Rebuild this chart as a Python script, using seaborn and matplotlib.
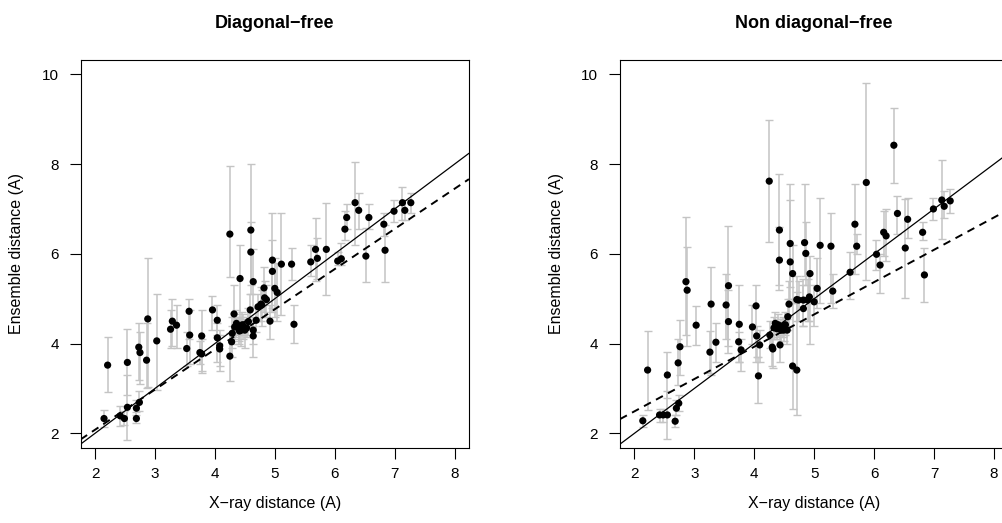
import numpy as np
import pandas as pd
import matplotlib
matplotlib.use("Agg")
import matplotlib.pyplot as plt
import seaborn as sns

sns.set_style("white")
plt.rcParams['font.family'] = ['Liberation Sans', 'DejaVu Sans']
plt.rcParams['text.color'] = 'black'
plt.rcParams['axes.labelcolor'] = 'black'
plt.rcParams['xtick.color'] = 'black'
plt.rcParams['ytick.color'] = 'black'

# --- data ---
# diagonal-free panel
diag_x = [2.15, 2.21, 2.42, 2.49, 2.54, 2.54, 2.69, 2.69, 2.74, 2.73, 2.75, 2.86, 2.88, 3.03,
          3.26, 3.29, 3.36, 3.53, 3.57, 3.58, 3.75, 3.78, 3.78, 3.96, 4.04, 4.04, 4.08, 4.08,
          4.25, 4.25, 4.28, 4.29, 4.32, 4.33, 4.36, 4.40, 4.42, 4.44, 4.47, 4.50, 4.38, 4.41,
          4.46, 4.53, 4.60, 4.60, 4.64, 4.59, 4.64, 4.64, 4.56, 4.69, 4.72, 4.77, 4.82, 4.83,
          4.86, 4.78, 4.92, 4.96, 4.96, 5.00, 5.04, 5.11, 5.28, 5.32, 5.60, 5.68, 5.71, 5.86,
          6.05, 6.11, 6.17, 6.20, 6.34, 6.40, 6.52, 6.57, 6.82, 6.84, 6.99, 7.13, 7.17, 7.27]
diag_y = [2.33, 3.52, 2.39, 2.33, 3.58, 2.58, 2.33, 2.56, 2.69, 3.92, 3.80, 3.63, 4.55, 4.06,
          4.32, 4.50, 4.41, 3.89, 4.72, 4.19, 3.80, 3.77, 4.17, 4.75, 4.52, 4.13, 3.95, 3.88,
          6.44, 3.72, 4.04, 4.23, 4.66, 4.37, 4.45, 4.33, 5.45, 4.30, 4.37, 4.30, 4.40, 4.28,
          4.42, 4.35, 6.53, 6.04, 5.38, 4.75, 4.30, 4.17, 4.49, 4.52, 4.82, 4.88, 5.24, 5.02,
          4.98, 4.86, 4.50, 5.86, 5.61, 5.23, 5.14, 5.77, 5.77, 4.43, 5.82, 6.10, 5.90, 6.10,
          5.84, 5.89, 6.55, 6.81, 7.14, 6.97, 5.95, 6.81, 6.66, 6.08, 6.95, 7.14, 6.97, 7.14]
diag_lo = [2.15, 2.91, 2.16, 2.18, 2.85, 1.85, 2.22, 2.40, 2.50, 3.19, 3.10, 3.00, 3.04, 2.96,
           3.90, 3.95, 3.90, 3.50, 4.10, 3.55, 3.55, 3.34, 3.40, 4.30, 4.20, 3.60, 3.50, 3.40,
           5.49, 3.17, 3.70, 3.90, 4.00, 4.10, 4.15, 4.00, 4.50, 3.95, 4.10, 3.90, 4.20, 4.05,
           4.20, 4.15, 5.10, 5.30, 4.80, 4.40, 4.00, 3.70, 4.20, 4.25, 4.50, 4.50, 4.70, 4.60,
           4.60, 4.40, 4.10, 4.70, 4.80, 4.60, 4.50, 4.63, 5.41, 4.01, 5.50, 5.40, 5.45, 5.08,
           5.75, 5.75, 6.30, 6.55, 6.19, 6.55, 5.38, 6.55, 6.40, 5.38, 6.70, 6.75, 6.75, 6.90]
diag_hi = [2.53, 4.14, 2.60, 2.50, 4.32, 3.30, 2.48, 2.75, 2.95, 4.46, 4.25, 4.45, 5.90, 5.10,
           4.75, 5.00, 4.85, 4.25, 5.00, 4.75, 4.05, 4.10, 4.75, 5.05, 4.85, 4.45, 4.30, 4.20,
           7.96, 4.23, 4.40, 4.60, 5.30, 4.65, 4.75, 4.60, 6.20, 4.60, 4.65, 4.55, 4.60, 4.55,
           4.70, 4.60, 8.00, 6.70, 6.10, 5.10, 4.60, 4.40, 4.80, 4.80, 5.10, 5.25, 5.70, 5.40,
           5.30, 5.20, 4.85, 6.90, 6.30, 5.90, 5.80, 6.90, 6.14, 4.86, 6.20, 6.80, 6.35, 7.14,
           6.05, 6.25, 6.95, 7.10, 8.04, 7.35, 6.57, 7.10, 6.90, 6.65, 7.20, 7.50, 7.20, 7.35]

# non diagonal-free panel
nond_x = [2.14, 2.22, 2.42, 2.48, 2.55, 2.55, 2.68, 2.70, 2.74, 2.73, 2.76, 2.86, 2.88, 3.03,
          3.26, 3.28, 3.36, 3.53, 3.57, 3.57, 3.75, 3.74, 3.78, 3.97, 4.03, 4.04, 4.09, 4.07,
          4.25, 4.26, 4.30, 4.31, 4.33, 4.35, 4.38, 4.40, 4.42, 4.42, 4.43, 4.45, 4.48, 4.52,
          4.55, 4.49, 4.56, 4.58, 4.60, 4.60, 4.64, 4.64, 4.71, 4.71, 4.74, 4.82, 4.82, 4.84,
          4.86, 4.89, 4.92, 4.93, 5.00, 5.05, 5.10, 5.28, 5.31, 5.60, 5.68, 5.71, 5.87, 6.04,
          6.10, 6.16, 6.20, 6.33, 6.39, 6.52, 6.56, 6.81, 6.84, 6.99, 7.13, 7.17, 7.27]
nond_y = [2.28, 3.41, 2.41, 2.41, 2.41, 3.30, 2.27, 2.56, 2.67, 3.57, 3.93, 5.38, 5.19, 4.41,
          3.81, 4.88, 4.03, 4.86, 5.29, 4.49, 4.43, 4.04, 3.86, 4.37, 4.84, 4.17, 3.97, 3.28,
          7.62, 4.19, 3.92, 3.88, 4.35, 4.45, 4.33, 4.42, 6.53, 5.86, 3.97, 4.30, 4.38, 4.42,
          4.30, 4.30, 4.60, 4.88, 6.23, 5.82, 5.56, 3.50, 3.41, 4.98, 4.97, 4.97, 4.78, 6.25,
          6.01, 4.97, 5.04, 5.56, 4.93, 5.23, 6.19, 6.17, 5.17, 5.59, 6.66, 6.17, 7.59, 5.99,
          5.75, 6.48, 6.40, 8.42, 6.90, 6.13, 6.77, 6.48, 5.53, 7.00, 7.20, 7.06, 7.18]
nond_lo = [2.15, 2.53, 2.25, 2.25, 1.87, 2.78, 2.15, 2.40, 2.50, 3.08, 3.30, 4.19, 3.95, 3.97,
           3.34, 3.30, 3.59, 4.10, 3.95, 3.80, 3.60, 3.60, 3.40, 4.00, 3.60, 3.70, 3.60, 2.68,
           6.27, 3.90, 3.50, 3.45, 4.10, 4.20, 4.10, 4.15, 5.20, 5.30, 3.60, 4.05, 4.15, 4.20,
           4.00, 4.05, 4.30, 4.40, 5.25, 5.00, 4.90, 2.55, 2.41, 4.50, 4.50, 4.40, 4.40, 5.50,
           5.30, 4.50, 4.50, 4.00, 4.40, 4.80, 4.90, 4.90, 4.80, 5.00, 5.55, 6.00, 5.41, 5.65,
           5.12, 5.95, 5.85, 7.58, 6.45, 5.01, 6.35, 6.30, 4.93, 6.75, 6.32, 6.80, 6.90]
nond_hi = [2.41, 4.28, 2.55, 2.55, 2.94, 3.82, 2.40, 2.75, 2.85, 4.10, 4.52, 6.82, 6.15, 4.84,
           4.29, 5.70, 4.46, 5.55, 6.62, 5.20, 5.30, 4.25, 4.10, 4.85, 5.30, 4.40, 4.30, 3.71,
           8.98, 4.50, 4.20, 4.10, 4.60, 4.70, 4.55, 4.65, 7.77, 6.60, 4.20, 4.55, 4.60, 4.70,
           4.55, 4.55, 5.00, 5.40, 7.55, 7.20, 6.20, 4.90, 5.15, 5.50, 5.40, 5.45, 5.30, 7.55,
           6.70, 5.45, 5.55, 5.95, 5.30, 5.90, 7.25, 6.90, 5.55, 6.05, 7.55, 6.45, 9.80, 6.30,
           6.00, 6.95, 7.00, 9.24, 7.30, 7.23, 7.25, 6.70, 6.12, 7.25, 8.09, 7.40, 7.45]

# dashed fit lines (intercept, slope); solid line is y = x
fit_diag = (0.29, 0.895)
fit_nond = (1.05, 0.72)

titles = ["Diagonal\u2212free", "Non diagonal\u2212free"]
x_ticks = [2, 3, 4, 5, 6, 7, 8]
y_ticks = [2, 4, 6, 8, 10]

panels = [
    (pd.DataFrame({'x': diag_x, 'y': diag_y, 'lo': diag_lo, 'hi': diag_hi}), fit_diag),
    (pd.DataFrame({'x': nond_x, 'y': nond_y, 'lo': nond_lo, 'hi': nond_hi}), fit_nond),
]

fig = plt.figure(figsize=(10.02, 5.23), dpi=100)
ax_left = fig.add_axes([0.0805, 0.144, 0.3875, 0.7413])
ax_right = fig.add_axes([0.6188, 0.144, 0.3875, 0.7413])

for ax, (df, fit), title in zip([ax_left, ax_right], panels, titles):
    yerr = np.vstack([df['y'] - df['lo'], df['hi'] - df['y']])
    ax.errorbar(df['x'], df['y'], yerr=yerr, fmt='none', ecolor='#c4c4c4',
                elinewidth=1.1, capsize=2.6, capthick=1.0, zorder=1)
    sns.scatterplot(data=df, x='x', y='y', ax=ax, color='black', s=27,
                    edgecolor='none', zorder=3)
    ax.axline((0, 0), slope=1, color='black', lw=0.9, zorder=2)
    ax.axline((0, fit[0]), slope=fit[1], color='black', lw=1.4,
              linestyle=(0, (4, 3)), zorder=2)

    ax.set_xlim(1.76, 8.24)
    ax.set_ylim(1.68, 10.32)
    ax.set_xticks(x_ticks)
    ax.set_yticks(y_ticks)
    ax.tick_params(axis='both', direction='out', length=7.7, width=0.8,
                   color='black', labelsize=11, bottom=True, left=True)
    ax.tick_params(axis='x', pad=6)
    ax.tick_params(axis='y', pad=8)
    for sp in ax.spines.values():
        sp.set_visible(True)
        sp.set_color('black')
        sp.set_linewidth(0.8)

    ax.set_title(title, fontsize=13, fontweight='bold', pad=23)
    ax.set_xlabel("X\u2212ray distance (A)", fontsize=11.5)
    ax.set_ylabel("Ensemble distance (A)", fontsize=11.5)
    ax.xaxis.set_label_coords(0.5, -0.125)
    ax.yaxis.set_label_coords(-0.145, 0.5)

plt.savefig("out.png", dpi=100)
plt.close()
